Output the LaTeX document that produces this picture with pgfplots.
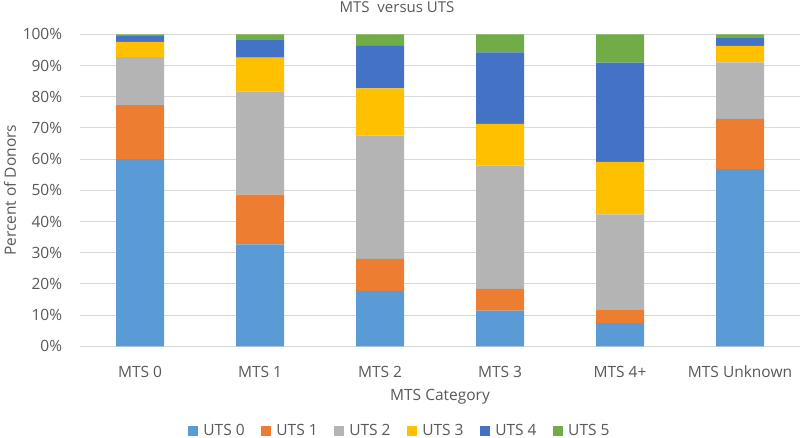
\documentclass[border=0pt]{standalone}
\usepackage{pgfplots}
\usepackage{pgfplotstable}
\pgfplotsset{compat=1.18}
\usepackage{fontspec}
\setmainfont{Open Sans}

\definecolor{txt}{HTML}{595959}
\definecolor{gridc}{HTML}{D9D9D9}
\definecolor{utsA}{HTML}{5B9BD5}
\definecolor{utsB}{HTML}{ED7D31}
\definecolor{utsC}{HTML}{B4B4B4}
\definecolor{utsD}{HTML}{FFC000}
\definecolor{utsE}{HTML}{4472C4}
\definecolor{utsF}{HTML}{70AD47}

% percent of donors per MTS category (rows) by UTS score (columns)
\pgfplotstableread{
x  u0   u1   u2   u3   u4   u5
0  60.0 17.3 15.4 4.9  1.8  0.6
1  32.7 15.9 33.1 10.8 5.9  1.6
2  17.8 10.2 39.5 15.2 13.6 3.7
3  11.4 7.0  39.5 13.4 22.9 5.8
4  7.4  4.2  30.7 16.8 31.8 9.1
5  56.8 16.1 18.1 5.3  2.7  1.0
}\mtsdata

\newcommand\lbl{\fontsize{15.5}{18}\selectfont}

\begin{document}
\begin{tikzpicture}
\useasboundingbox (0pt,0pt) rectangle (800pt,438pt);
\begin{axis}[
    at={(80pt,91.7pt)}, anchor=south west,
    width=720pt, height=312pt, scale only axis,
    ybar stacked, bar width=48pt,
    xmin=-0.5, xmax=5.5, ymin=0, ymax=100,
    xtick={0,...,5},
    xticklabels={MTS 0, MTS 1, MTS 2, MTS 3, MTS 4+, MTS Unknown},
    ytick={0,10,...,100},
    yticklabel={\pgfmathprintnumber{\tick}\%},
    /pgf/number format/assume math mode=true,
    major tick length=0pt,
    axis lines*=left,
    y axis line style={draw=none},
    x axis line style={draw=gridc, line width=0.8pt},
    ymajorgrids, grid style={draw=gridc, line width=0.8pt},
    tick label style={font=\lbl, text=txt},
    xticklabel style={anchor=center, yshift=-25.4pt},
    yticklabel style={anchor=east, inner sep=0pt, xshift=-17.7pt},
    xlabel={MTS Category},
    xlabel style={at={(axis description cs:0.5,0)}, anchor=center, yshift=-50.4pt, font=\lbl, text=txt},
    ylabel={Percent of Donors},
    ylabel style={at={(axis description cs:-0.0972,0.5)}, anchor=center, font=\lbl, text=txt},
    legend columns=6,
    legend style={at={(axis description cs:0.4444,-0.2699)}, anchor=center, draw=none, fill=none,
        font=\lbl, text=txt, column sep=3pt,
        /tikz/every even column/.append style={column sep=14.7pt}},
    legend image code/.code={\fill[#1] (0pt,-5pt) rectangle (10pt,5pt);},
]
\addplot[fill=utsA, draw=none] table[x=x, y=u0] {\mtsdata};
\addplot[fill=utsB, draw=none] table[x=x, y=u1] {\mtsdata};
\addplot[fill=utsC, draw=none] table[x=x, y=u2] {\mtsdata};
\addplot[fill=utsD, draw=none] table[x=x, y=u3] {\mtsdata};
\addplot[fill=utsE, draw=none] table[x=x, y=u4] {\mtsdata};
\addplot[fill=utsF, draw=none] table[x=x, y=u5] {\mtsdata};
\legend{UTS 0, UTS 1, UTS 2, UTS 3, UTS 4, UTS 5}
\end{axis}
\node[anchor=base, inner sep=0pt, text=txt, font=\fontsize{15}{18}\selectfont]
    at (397pt,425pt) {MTS\ \ versus UTS};
\end{tikzpicture}
\end{document}
